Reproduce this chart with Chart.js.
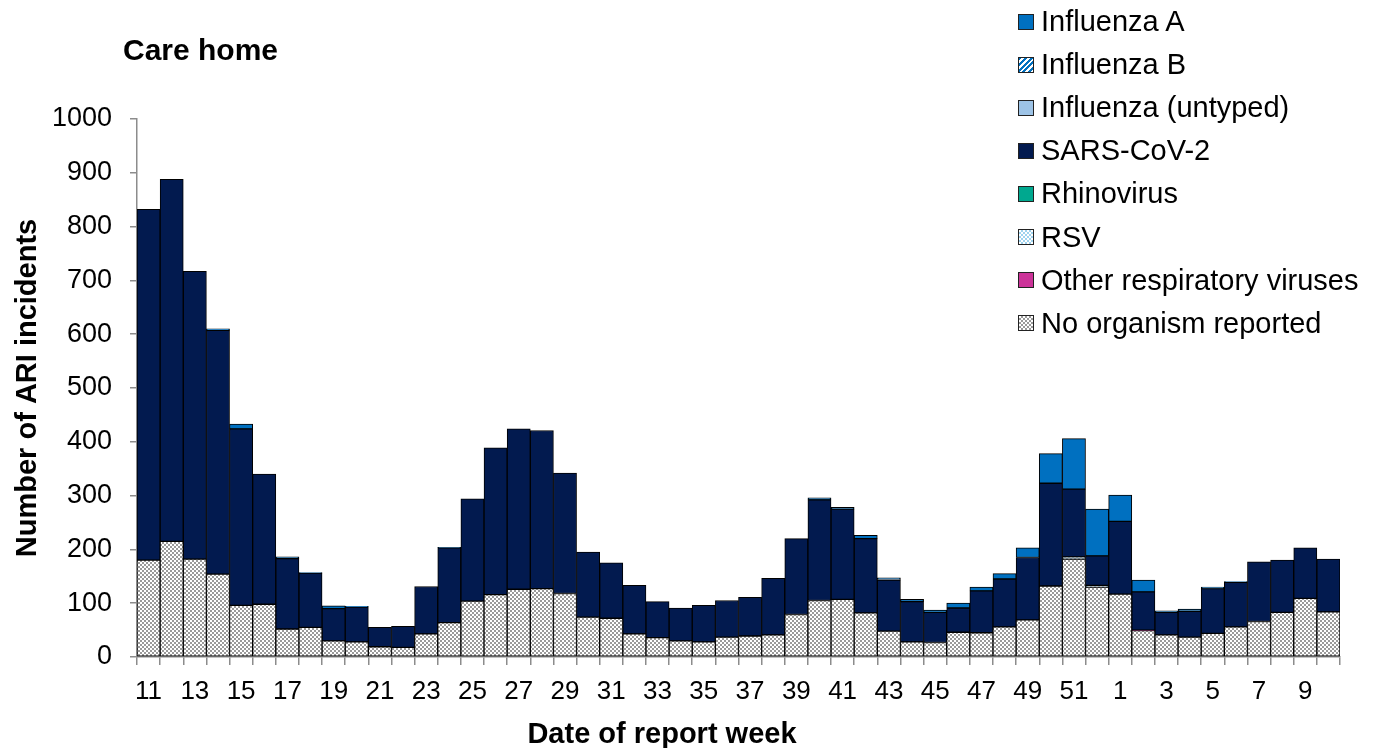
<!DOCTYPE html>
<html>
<head>
<meta charset="utf-8">
<script src="https://cdn.jsdelivr.net/npm/chart.js@4"></script>
<style>
  body { margin: 0; background: #fff; font-family: "Liberation Sans", Arial, sans-serif; }
  #wrap { position: relative; width: 1379px; height: 748px; }
  #title { position: absolute; left: 123px; top: 33px; font-size: 30px; font-weight: bold; color: #000; }
  #xTitle { position: absolute; left: 462px; width: 400px; text-align: center; top: 717px; font-size: 29px; font-weight: bold; color: #000; }
  #legend { position: absolute; left: 1018px; top: 0px; }
  .row { height: 43.1px; display: flex; align-items: center; font-size: 29px; color: #000; }
  .sw { width: 14px; height: 14px; border: 1px solid #222; margin-right: 7px; }
</style>
</head>
<body>
<div id="wrap">
  <canvas id="myChart" width="1379" height="748"></canvas>
  <div id="title">Care home</div>
  <div id="xTitle">Date of report week</div>
  <div id="legend"></div>
</div>
<script>
// week numbers along the x axis
const weeks = [11,12,13,14,15,16,17,18,19,20,21,22,23,24,25,26,27,28,29,30,31,32,33,34,35,36,37,38,39,40,
  41,42,43,44,45,46,47,48,49,50,51,52,1,2,3,4,5,6,7,8,9,10];

// counts per series
const noOrganism = [180,215,182,154,96,98,52,55,30,28,19,18,43,64,104,116,126,127,118,74,72,43,36,30,28,37,39,41,79,105,
  107,82,48,28,27,46,45,56,69,132,182,130,117,49,41,37,44,56,66,83,109,84];
const otherResp = [0,0,0,0,0,0,0,0,0,0,0,0,0,0,0,0,0,0,0,0,0,0,0,0,0,0,0,0,0,0,
  0,0,0,0,0,0,0,0,0,0,0,0,0,1,0,0,0,0,0,0,0,0];
const rsv = [0,0,0,0,0,0,0,0,0,0,0,0,0,0,0,0,0,0,0,0,0,0,0,0,0,0,0,0,0,0,
  0,0,0,0,0,0,0,0,0,0,4,3,0,0,0,0,0,0,0,0,0,0];
const rhino = [0,0,0,0,0,0,0,0,0,0,0,0,0,0,0,0,0,0,0,0,0,0,0,0,0,0,0,0,0,0,
  0,0,0,0,0,0,0,0,0,0,0,0,0,0,0,0,0,0,0,0,0,0];
const sarsCov2 = [652,673,535,453,328,242,131,101,60,65,36,39,88,139,190,273,298,294,224,121,103,90,67,61,68,68,72,105,141,187,
  168,138,95,75,56,45,78,89,116,191,126,55,135,71,42,48,83,83,111,97,94,98];
const fluUntyped = [0,0,0,0,0,0,0,0,0,0,0,0,0,0,0,0,0,0,0,0,0,0,0,0,0,0,0,0,0,0,
  0,0,1,0,0,0,0,0,0,0,0,0,0,0,0,0,0,0,0,0,0,0];
const fluB = [0,0,0,0,0,0,0,0,0,0,0,0,0,0,0,0,0,0,0,0,0,0,0,0,0,0,0,0,0,0,
  0,0,0,0,0,0,0,0,0,0,0,0,0,0,0,0,0,0,0,0,0,0];
const fluA = [0,0,0,3,9,0,3,1,5,1,0,0,0,1,0,0,0,0,0,0,0,0,0,0,0,0,0,0,0,4,
  3,6,3,4,4,9,7,10,18,55,94,87,49,22,3,4,3,1,0,0,0,0];

const yTicks = [0,100,200,300,400,500,600,700,800,900,1000];

// small canvas patterns for the hatched series
function makePattern(draw) {
  const c = document.createElement('canvas');
  c.width = 4; c.height = 4;
  const g = c.getContext('2d');
  draw(g);
  return g.createPattern(c, 'repeat');
}
const checker = makePattern(function(g) {
  g.fillStyle = '#ffffff'; g.fillRect(0, 0, 4, 4);
  g.fillStyle = '#9a9a9a'; g.fillRect(0, 0, 2, 2); g.fillRect(2, 2, 2, 2);
});
const stripes = makePattern(function(g) {
  g.fillStyle = '#ffffff'; g.fillRect(0, 0, 4, 4);
  g.fillStyle = '#0070c0';
  g.fillRect(3, 0, 1, 1); g.fillRect(2, 1, 1, 1); g.fillRect(1, 2, 1, 1); g.fillRect(0, 3, 1, 1);
  g.fillRect(0, 0, 1, 1); g.fillRect(3, 1, 1, 1); g.fillRect(2, 2, 1, 1); g.fillRect(1, 3, 1, 1);
});
const dots = makePattern(function(g) {
  g.fillStyle = '#ffffff'; g.fillRect(0, 0, 4, 4);
  g.fillStyle = '#9fd3ef'; g.fillRect(0, 0, 2, 2); g.fillRect(2, 2, 2, 2);
});

// stacking order bottom to top
const series = [
  { label: 'No organism reported', data: noOrganism, bg: checker, css: 'repeating-conic-gradient(#9a9a9a 0% 25%, #fff 0% 50%) 0 0/4px 4px' },
  { label: 'Other respiratory viruses', data: otherResp, bg: '#cc3399', css: '#cc3399' },
  { label: 'RSV', data: rsv, bg: dots, css: 'repeating-conic-gradient(#9fd3ef 0% 25%, #fff 0% 50%) 0 0/4px 4px' },
  { label: 'Rhinovirus', data: rhino, bg: '#00a88f', css: '#00a88f' },
  { label: 'SARS-CoV-2', data: sarsCov2, bg: '#021a4f', css: '#021a4f' },
  { label: 'Influenza (untyped)', data: fluUntyped, bg: '#9dc3e6', css: '#9dc3e6' },
  { label: 'Influenza B', data: fluB, bg: stripes, css: 'repeating-linear-gradient(135deg, #0070c0 0 2px, #fff 2px 4px)' },
  { label: 'Influenza A', data: fluA, bg: '#0070c0', css: '#0070c0' }
];

const legend = document.getElementById('legend');
series.slice().reverse().forEach(function(s) {
  const row = document.createElement('div');
  row.className = 'row';
  const sw = document.createElement('div');
  sw.className = 'sw';
  sw.style.background = s.css;
  row.appendChild(sw);
  row.appendChild(document.createTextNode(s.label));
  legend.appendChild(row);
});

const ctx = document.getElementById('myChart');
new Chart(ctx, {
  type: 'bar',
  data: {
    labels: weeks,
    datasets: series.map(function(s) {
      return {
        label: s.label,
        data: s.data.map(function(v) { return v === 0 ? null : v; }),
        backgroundColor: s.bg,
        borderColor: '#000',
        borderWidth: 1,
        borderSkipped: false,
        categoryPercentage: 1,
        barPercentage: 1
      };
    })
  },
  options: {
    responsive: false,
    animation: false,
    layout: { padding: { top: 119, right: 39, left: 0, bottom: 0 } },
    plugins: { legend: { display: false }, tooltip: { enabled: false } },
    scales: {
      x: {
        stacked: true,
        afterFit: function(scale) { scale.height = 91; },
        border: { color: '#8c8c8c', width: 1.5 },
        grid: { offset: true, drawOnChartArea: false, color: '#8c8c8c', tickLength: 8, lineWidth: 1.5 },
        ticks: {
          autoSkip: false, maxRotation: 0, padding: 11, color: '#000',
          font: { family: 'Liberation Sans', size: 26 },
          callback: function(v, i) { return i % 2 === 0 ? weeks[i] : ''; }
        }
      },
      y: {
        stacked: true,
        min: 0, max: 1000,
        afterFit: function(scale) { scale.width = 137; },
        afterBuildTicks: function(scale) { scale.ticks = yTicks.map(function(v) { return { value: v }; }); },
        border: { color: '#8c8c8c', width: 1.5 },
        grid: { drawOnChartArea: false, color: '#8c8c8c', tickLength: 7, lineWidth: 1.5 },
        ticks: {
          padding: 18, color: '#000', font: { family: 'Liberation Sans', size: 27 },
          callback: function(v) { return String(v); }
        },
        title: {
          display: true, text: 'Number of ARI incidents', color: '#000',
          font: { family: 'Liberation Sans', size: 29, weight: 'bold', lineHeight: 1 },
          padding: { top: 13, bottom: 0 }
        }
      }
    }
  }
});
</script>
</body>
</html>
